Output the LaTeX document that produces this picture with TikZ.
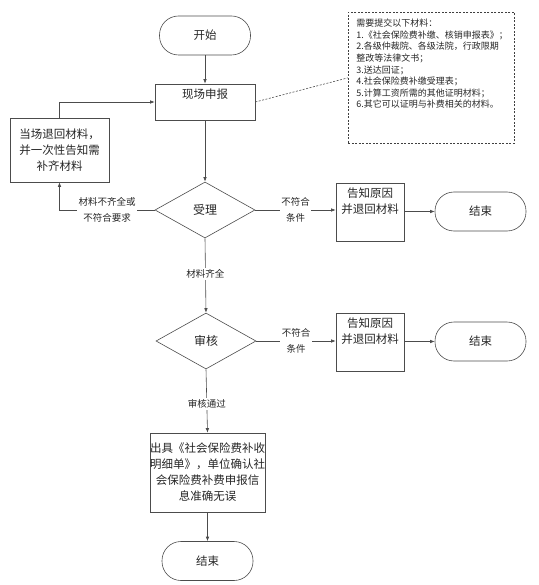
\documentclass[tikz,border=0pt]{standalone}
\usepackage{fontspec}
\setmainfont{Noto Sans CJK SC}
\usetikzlibrary{arrows.meta,shapes.geometric}
\tikzset{
  flow-line/.style={draw=black!70, line width=0.6pt},
  flow-dash/.style={dash pattern=on 2pt off 1.5pt},
  flow-term/.style={draw=black!70, line width=0.6pt, rounded corners=19pt,
    minimum width=91pt, minimum height=39pt, inner sep=0pt,
    text=black!85, font=\fontsize{11.5}{16}\selectfont},
  flow-box/.style={draw=black!70, line width=0.6pt, inner xsep=2pt, inner ysep=0pt,
    align=center, text=black!85, font=\fontsize{11.5}{16}\selectfont},
  flow-decision/.style={diamond, draw=black!70, line width=0.6pt, inner sep=0pt,
    minimum width=100pt, minimum height=56pt, text=black!85,
    font=\fontsize{12}{16}\selectfont},
  flow-note/.style={draw=black!75, flow-dash, line width=0.6pt, inner xsep=8pt, inner ysep=0pt,
    align=left, text=black!85, font=\fontsize{9}{11.6}\selectfont},
  flow-label/.style={fill=white, inner sep=1.5pt, align=center, text=black!85,
    font=\fontsize{9.5}{16.5}\selectfont}
}

\begin{document}
\begin{tikzpicture}[x=1pt, y=-1pt, >={Latex[length=4.5pt,width=3.5pt]}]
  \useasboundingbox (0,0) rectangle (538,585);
  % main column
  \node[flow-term] (start) at (205,35.5) {开始};
  \node[flow-box, minimum width=100pt, text height=14.5pt, text depth=21.5pt] (apply) at (205,102) {现场申报};
  \node[flow-note, text width=150pt, text height=14.5pt, text depth=116.5pt, anchor=north west] (note) at (348,12)
    {需要提交以下材料：\\1.《社会保险费补缴、核销申报表》；\\2.各级仲裁院、各级法院，行政限期\\整改等法律文书；\\3.送达回证；\\4.社会保险费补缴受理表；\\5.计算工资所需的其他证明材料；\\6.其它可以证明与补费相关的材料。};
  \node[flow-box, minimum width=99pt, minimum height=64pt] (return) at (59.5,150) {当场退回材料，\\并一次性告知需\\补齐材料};
  \node[flow-decision] (accept) at (205,210) {受理};
  \node[flow-decision] (review) at (206,341) {审核};
  \node[flow-box, inner xsep=0pt, minimum width=115pt, minimum height=79pt] (issue) at (207.5,472.5)
    {出具《社会保险费补收\\明细单》，单位确认社\\会保险费补费申报信\\息准确无误};
  \node[flow-term] (final) at (207.5,561) {结束};
  % rejection rows
  \foreach \name/\y in {a/212, b/342} {
    \node[flow-box, minimum width=68pt, text height=30.5pt, text depth=27.5pt] (notice\name) at (370,\y-29) [anchor=north] {告知原因\\并退回材料};
    \node[flow-term] (end\name) at (480.5,\y-0.5) {结束};
    \draw[flow-line, ->] (notice\name.east |- end\name.west) -- (end\name.west);
  }
  \draw[flow-line, ->] (start.south) -- (apply.north);
  \draw[flow-line, flow-dash] (apply.east) -- (note.west);
  \draw[flow-line, ->] (apply.south) -- (accept.north);
  \draw[flow-line, ->] (accept.west) -| node[flow-label, pos=0.25] {材料不齐全或\\不符合要求} (return.south);
  \draw[flow-line, ->] (return.north) |- (apply.west);
  \draw[flow-line, ->] (accept.east) -- node[flow-label] {不符合\\条件} (accept.east -| noticea.west);
  \draw[flow-line, ->] (accept.south) -- node[flow-label, pos=0.48] {材料齐全} (review.north);
  \draw[flow-line, ->] (review.east) -- node[flow-label] {不符合\\条件} (review.east -| noticeb.west);
  \draw[flow-line, ->] (review.south) -- node[flow-label, pos=0.55] {审核通过} (issue.north);
  \draw[flow-line, ->] (issue.south) -- (final.north);
\end{tikzpicture}
\end{document}
